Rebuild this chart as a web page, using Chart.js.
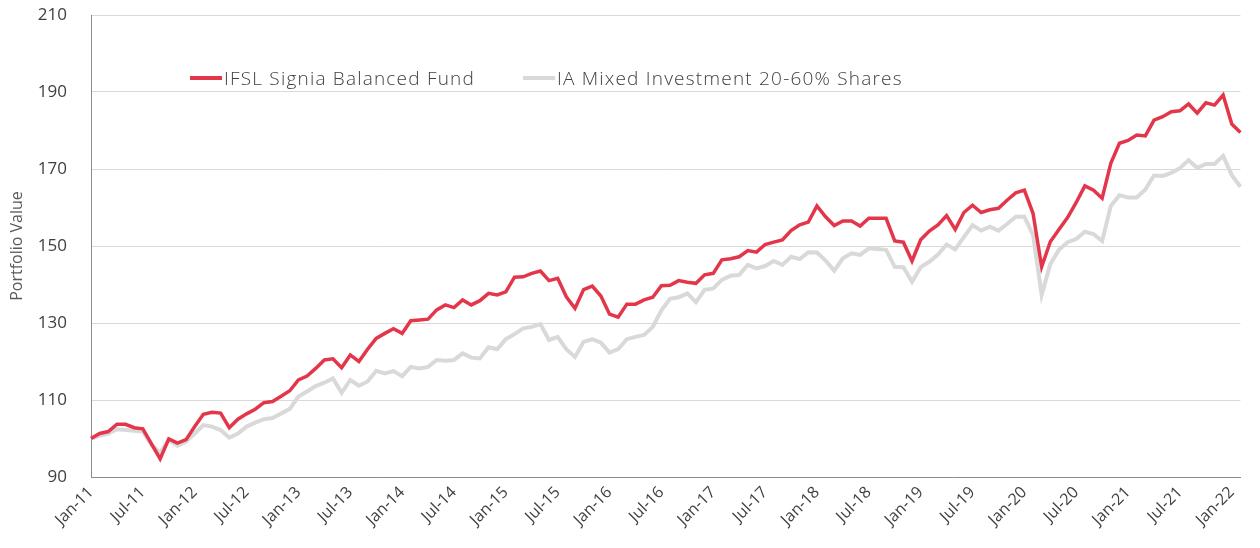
<!DOCTYPE html>
<html>
<head>
<meta charset="utf-8">
<script src="https://cdn.jsdelivr.net/npm/chart.js@4/dist/chart.umd.min.js"></script>
<style>
  body { margin: 0; background: #fff; }
  .wrap { position: relative; width: 1260px; height: 548px; }
  .legend {
    position: absolute; top: 65px; left: 190px;
    display: flex; align-items: center;
    font-family: "Open Sans", sans-serif; font-size: 19px; font-weight: 300;
    letter-spacing: 1.2px; color: #404040; white-space: nowrap;
  }
  .legend .swatch { display: inline-block; width: 32px; height: 4px; margin-right: 2px; }
  .legend .item { display: flex; align-items: center; }
  .legend .item + .item { margin-left: 48px; }
</style>
</head>
<body>
<div class="wrap">
  <canvas id="perfChart"></canvas>
  <div class="legend" id="legend"></div>
</div>
<script>
/* Data */

const monthNames = ["Jan", "Feb", "Mar", "Apr", "May", "Jun", "Jul", "Aug", "Sep", "Oct", "Nov", "Dec"];
const years = ["11", "12", "13", "14", "15", "16", "17", "18", "19", "20", "21", "22"];

const seriesNames = ["IFSL Signia Balanced Fund", "IA Mixed Investment 20-60% Shares"];
const seriesColors = ["#E4364A", "#D9D9D9"];

const yTicks = [90, 110, 130, 150, 170, 190, 210];

// monthly values, Jan-11 .. Feb-22
const fundValues = [
  100.0, 101.3, 101.8, 103.7, 103.7, 102.8, 102.5, 98.6, 94.7, 99.9, 98.8, 99.7,
  103.1, 106.3, 106.8, 106.6, 102.8, 105.0, 106.4, 107.6, 109.3, 109.6, 111.0, 112.4,
  115.2, 116.2, 118.2, 120.4, 120.7, 118.4, 121.7, 120.0, 123.2, 126.0, 127.3, 128.5,
  127.3, 130.6, 130.8, 131.0, 133.4, 134.7, 134.0, 136.0, 134.7, 135.8, 137.7, 137.3,
  138.1, 141.9, 142.0, 142.9, 143.5, 141.0, 141.6, 136.8, 133.8, 138.7, 139.6, 137.0,
  132.3, 131.5, 134.9, 134.9, 136.0, 136.7, 139.7, 139.8, 141.0, 140.6, 140.3, 142.5,
  142.9, 146.4, 146.7, 147.2, 148.8, 148.4, 150.4, 151.0, 151.6, 154.0, 155.5, 156.2,
  160.4, 157.6, 155.3, 156.5, 156.5, 155.2, 157.2, 157.2, 157.2, 151.3, 151.0, 146.1,
  151.6, 153.9, 155.5, 157.9, 154.3, 158.7, 160.6, 158.7, 159.4, 159.8, 161.9, 163.8,
  164.5, 158.5, 144.6, 151.1, 154.3, 157.4, 161.3, 165.6, 164.5, 162.4, 171.5, 176.7,
  177.4, 178.8, 178.6, 182.7, 183.6, 184.9, 185.1, 186.9, 184.5, 187.2, 186.6, 189.2,
  181.7, 179.5
];

const sectorValues = [
  100.0, 100.7, 101.3, 102.4, 102.2, 102.0, 101.8, 98.3, 96.3, 99.6, 98.1, 99.2,
  101.3, 103.5, 103.1, 102.2, 100.2, 101.3, 103.1, 104.1, 105.0, 105.3, 106.5, 107.7,
  110.9, 112.2, 113.6, 114.5, 115.6, 111.9, 115.2, 113.7, 114.8, 117.6, 116.9, 117.5,
  116.2, 118.6, 118.2, 118.6, 120.4, 120.2, 120.4, 122.1, 121.0, 120.8, 123.7, 123.2,
  125.8, 127.1, 128.6, 129.0, 129.7, 125.6, 126.4, 123.2, 121.2, 125.1, 125.8, 124.9,
  122.3, 123.2, 125.8, 126.4, 126.9, 129.0, 133.3, 136.3, 136.7, 137.7, 135.4, 138.6,
  139.0, 141.2, 142.3, 142.5, 145.1, 144.2, 144.8, 146.1, 145.1, 147.2, 146.6, 148.4,
  148.3, 146.2, 143.6, 146.8, 148.1, 147.7, 149.4, 149.2, 149.0, 144.6, 144.5, 140.7,
  144.5, 145.9, 147.8, 150.4, 149.1, 152.3, 155.4, 154.0, 155.0, 154.0, 155.7, 157.6,
  157.6, 152.9, 137.3, 145.3, 149.0, 151.0, 151.8, 153.7, 153.1, 151.3, 160.4, 163.2,
  162.6, 162.6, 164.7, 168.3, 168.2, 169.0, 170.2, 172.3, 170.3, 171.3, 171.3, 173.4,
  168.4, 165.4
];

/* Labels */

const labels = [];
years.forEach(year => {
    monthNames.forEach(month => {
        if (labels.length < fundValues.length) {
            labels.push(`${month}-${year}`);
        }
    });
});

/* Legend */

const legendEl = document.querySelector("#legend");
seriesNames.forEach((name, i) => {
    const item = document.createElement("div");
    item.classList.add("item");
    item.innerHTML = `<span class="swatch" style="background:${seriesColors[i]}"></span><span>${name}</span>`;
    legendEl.appendChild(item);
});

/* Chart */

const tickFont = { family: "'Open Sans', sans-serif", size: 16 };

const perfChart = new Chart(document.querySelector("#perfChart"), {
    type: "line",
    data: {
        labels: labels,
        datasets: [
            {
                label: seriesNames[0],
                data: fundValues,
                borderColor: seriesColors[0],
                borderWidth: 3.5,
                pointRadius: 0,
                tension: 0,
                order: 1
            },
            {
                label: seriesNames[1],
                data: sectorValues,
                borderColor: seriesColors[1],
                borderWidth: 4,
                pointRadius: 0,
                tension: 0,
                order: 2
            }
        ]
    },
    options: {
        responsive: true,
        maintainAspectRatio: false,
        animation: false,
        plugins: {
            legend: { display: false },
            tooltip: { enabled: false }
        },
        layout: {
            padding: { top: 0, right: 0, bottom: 0, left: 0 }
        },
        scales: {
            x: {
                offset: false,
                grid: { display: true, drawOnChartArea: false, drawTicks: false },
                border: { display: true, color: "#8C8C8C", width: 1 },
                ticks: {
                    autoSkip: false,
                    maxRotation: 45,
                    minRotation: 45,
                    padding: 6,
                    color: "#404040",
                    font: tickFont,
                    callback: function (value, index) {
                        return index % 6 === 0 ? this.getLabelForValue(value) : "";
                    }
                },
                afterFit: scale => { scale.height = 71; }
            },
            y: {
                min: yTicks[0],
                max: yTicks[yTicks.length - 1],
                afterBuildTicks: scale => {
                    scale.ticks = yTicks.map(v => ({ value: v }));
                },
                grid: { color: "#D9D9D9", lineWidth: 1, drawTicks: false },
                border: { display: true, color: "#8C8C8C", width: 1 },
                ticks: {
                    padding: 24,
                    color: "#404040",
                    font: { family: "'Open Sans', sans-serif", size: 17 }
                },
                title: {
                    display: true,
                    text: "Portfolio Value",
                    color: "#595959",
                    padding: { top: 8, bottom: 0 },
                    font: { family: "'Open Sans', sans-serif", size: 16 }
                },
                afterFit: scale => {
                    // tick padding also inflates the top padding, keep the 210 line at y=15
                    scale.width = 91;
                    scale.paddingTop = 15;
                    scale.paddingBottom = 0;
                }
            }
        }
    }
});
</script>
</body>
</html>
